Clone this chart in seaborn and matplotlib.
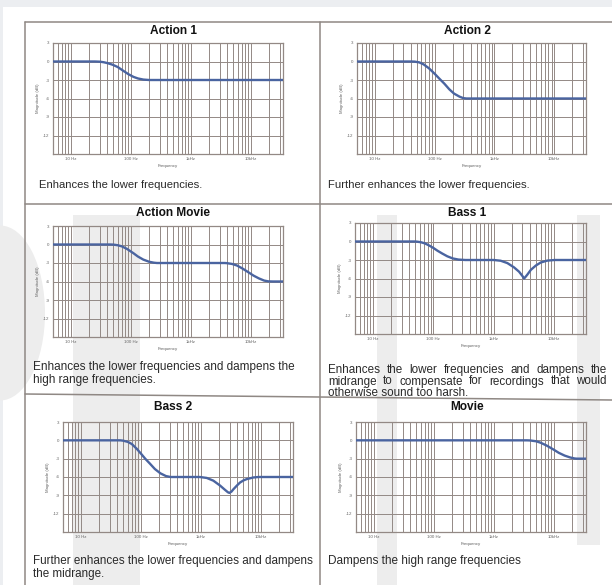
import numpy as np
import pandas as pd
import matplotlib
matplotlib.use("Agg")
import matplotlib.pyplot as plt
from matplotlib.lines import Line2D
from matplotlib.patches import Rectangle, Ellipse
from matplotlib.ticker import FixedLocator, LogLocator, NullFormatter
import seaborn as sns

# ---------------- data ----------------
titles = ["Action 1", "Action 2", "Action Movie", "Bass 1", "Bass 2", "Movie"]

descriptions = [
    ["Enhances the lower frequencies."],
    ["Further enhances the lower frequencies."],
    ["Enhances the lower frequencies and dampens the", "high range frequencies."],
    ["Enhances the lower frequencies and dampens the",
     "midrange to compensate for recordings that would",
     "otherwise sound too harsh."],
    ["Further enhances the lower frequencies and dampens", "the midrange."],
    ["Dampens the high range frequencies"],
]

x_tick_values = [10, 100, 1000, 10000]
x_tick_labels = ["10 Hz", "100 Hz", "1kHz", "10kHz"]
y_tick_values = [3, 0, -3, -6, -9, -12]
y_tick_labels = ["3", "0", "-3", "-6", "-9", "-12"]

action1_freq = [5, 25, 30, 35, 40, 45, 50, 60, 74, 90, 110, 130, 160, 200, 34000]
action1_db = [0, 0, -0.03, -0.12, -0.25, -0.4, -0.55, -0.9, -1.5, -2.05, -2.5, -2.75, -2.93, -3, -3]

action2_freq = [5, 40, 46, 55, 65, 80, 100, 120, 145, 175, 210, 260, 300, 340, 34000]
action2_db = [0, 0, -0.02, -0.14, -0.46, -1.1, -2.0, -2.8, -3.6, -4.5, -5.2, -5.7, -5.94, -6, -6]

actionmovie_freq = [5, 45, 51, 60, 70, 85, 109, 130, 160, 200, 240, 270, 3600, 3920,
                    4800, 5800, 7200, 9000, 11000, 13500, 16500, 19400, 23000, 34000]
actionmovie_db = [0, 0, -0.02, -0.12, -0.3, -0.7, -1.4, -1.95, -2.45, -2.8, -2.95, -3, -3, -3.02,
                  -3.15, -3.4, -3.9, -4.5, -5.05, -5.5, -5.85, -5.98, -6, -6]

bass1_freq = [5, 48, 53, 62, 72, 85, 100, 117, 140, 170, 210, 260, 338, 1000, 1306, 1686,
              2177, 2636, 3000, 3200, 3400, 3630, 4130, 5000, 6050, 7750, 10200, 34000]
bass1_db = [0, 0, -0.02, -0.12, -0.3, -0.65, -1.05, -1.5, -1.95, -2.4, -2.75, -2.93, -3, -3,
            -3.12, -3.5, -4.2, -4.9, -5.6, -6, -5.7, -5.35, -4.6, -3.9, -3.4, -3.1, -3, -3]

bass2_freq = [5, 45, 50, 60, 70, 85, 100, 117, 140, 170, 210, 260, 310, 950, 1240, 1600,
              2070, 2500, 2800, 2960, 3200, 3460, 3950, 4460, 5100, 5740, 7400, 9000, 34000]
bass2_db = [0, 0, -0.05, -0.25, -0.6, -1.4, -2.2, -3, -3.8, -4.7, -5.4, -5.85, -6, -6,
            -6.15, -6.6, -7.4, -8.1, -8.5, -8.6, -8.4, -8.0, -7.4, -6.9, -6.55, -6.35, -6.08, -6, -6]

movie_freq = [5, 3500, 3970, 5000, 6000, 7500, 9750, 12000, 15000, 18500, 22000, 24000, 34000]
movie_db = [0, 0, -0.02, -0.15, -0.4, -0.85, -1.5, -2.05, -2.5, -2.8, -2.97, -3, -3]

curves = [(action1_freq, action1_db), (action2_freq, action2_db),
          (actionmovie_freq, actionmovie_db), (bass1_freq, bass1_db),
          (bass2_freq, bass2_db), (movie_freq, movie_db)]

# ---------------- layout (pixels) ----------------
W, H = 612, 585
sns.set_theme(style="white")
plt.rcParams['font.family'] = ['Liberation Sans', 'DejaVu Sans']

fig = plt.figure(figsize=(W / 100, H / 100), dpi=100)
fig.patch.set_facecolor("white")


def fx(x):
    return x / W


def fy(y):
    return 1 - y / H


def prect(x0, y0, x1, y1, color, z):
    fig.add_artist(Rectangle((fx(x0), fy(y1)), (x1 - x0) / W, (y1 - y0) / H,
                             transform=fig.transFigure, facecolor=color,
                             edgecolor="none", zorder=z))


# top / left grey page band
prect(0, 0, 612, 7, "#eceef1", -5)
prect(0, 0, 3, 585, "#eceef1", -5)

# faint background watermark shapes
wm = "#ededed"
fig.add_artist(Ellipse((0, fy(313)), 90 / W, 175 / H, transform=fig.transFigure,
                       facecolor=wm, edgecolor="none", zorder=-4))
prect(73, 215, 140, 585, wm, -4)
prect(377, 215, 397, 585, wm, -4)
prect(577, 215, 600, 545, wm, -4)

# axes boxes (x0, y0, x1, y1) in pixels from top-left
boxes = [(53, 43, 283, 154), (357, 43, 586, 154),
         (53, 226, 283, 337), (355, 223, 586, 334),
         (63, 422, 293, 532), (356, 422, 586, 532)]
title_pos = [(173, 31), (467, 31), (173, 213), (467, 213), (173, 407), (467, 407)]
desc_pos = [(39, 184), (328, 184), (33, 366), (328, 369), (33, 560), (328, 560)]
desc_size = [8.1, 8.1, 8.5, 8.4, 8.4, 8.5]
desc_gap = [12.5, 12.5, 13.0, 11.5, 12.5, 12.5]

grid_col = "#938985"
curve_col = "#4a64a0"

for i in range(6):
    x0, y0, x1, y1 = boxes[i]
    ax = fig.add_axes([fx(x0), fy(y1), (x1 - x0) / W, (y1 - y0) / H])
    ax.set_facecolor("none")
    ax.set_xscale("log")
    df = pd.DataFrame({"freq": curves[i][0], "db": curves[i][1]})
    sns.lineplot(data=df, x="freq", y="db", ax=ax, color=curve_col, linewidth=1.7,
                 estimator=None, zorder=5)
    ax.set_xlim(5, 34000)
    ax.set_ylim(-15, 3)
    ax.xaxis.set_major_locator(FixedLocator(x_tick_values))
    ax.set_xticklabels(x_tick_labels)
    ax.xaxis.set_minor_locator(LogLocator(base=10, subs=np.arange(2, 10), numticks=50))
    ax.xaxis.set_minor_formatter(NullFormatter())
    ax.set_yticks(y_tick_values)
    ax.set_yticklabels(y_tick_labels)
    ax.grid(True, which="both", axis="x", color=grid_col, linewidth=0.7)
    ax.grid(True, which="major", axis="y", color=grid_col, linewidth=0.7)
    ax.tick_params(axis="both", which="both", length=0, labelsize=3.2,
                   labelcolor="#666666", pad=2.5)
    ax.set_xlabel("Frequency", fontsize=3.2, color="#666666", labelpad=2)
    ax.set_ylabel("Magnitude (dB)", fontsize=3.2, color="#666666", labelpad=2)
    for s in ax.spines.values():
        s.set_visible(True)
        s.set_color(grid_col)
        s.set_linewidth(0.9)

    tx, ty = title_pos[i]
    fig.text(fx(tx), fy(ty), titles[i], ha="center", va="center", fontsize=8.6,
             fontweight="bold", color="#111111")

# descriptions (baseline-aligned so justified words sit on one line)
renderer = fig.canvas.get_renderer()
for i in range(6):
    dx, dy = desc_pos[i]
    fs = desc_size[i]
    lines = descriptions[i]
    for k, line in enumerate(lines):
        yy = fy(dy + k * desc_gap[i] + 4)
        if i == 3 and k < len(lines) - 1:
            # justified text between x=328 and x=607
            words = line.split(" ")
            arts = [fig.text(0, yy, w, ha="left", va="baseline", fontsize=fs, color="#2a2a2a")
                    for w in words]
            widths = [a.get_window_extent(renderer).width for a in arts]
            gap = (607 - dx - sum(widths)) / (len(words) - 1)
            cur = dx
            for a, w in zip(arts, widths):
                a.set_x(fx(cur))
                cur += w + gap
        else:
            fig.text(fx(dx), yy, line, ha="left", va="baseline", fontsize=fs, color="#2a2a2a")

# table rules
rule_col = "#8f8884"
for (xa, ya, xb, yb) in [(25, 22, 612, 22), (25, 22, 25, 585), (320, 22, 320, 585),
                         (25, 204, 612, 204), (25, 394, 612, 400)]:
    fig.add_artist(Line2D([fx(xa), fx(xb)], [fy(ya), fy(yb)], transform=fig.transFigure,
                          color=rule_col, linewidth=1.1, zorder=3))

fig.savefig("out.png", dpi=100, facecolor=fig.get_facecolor())
